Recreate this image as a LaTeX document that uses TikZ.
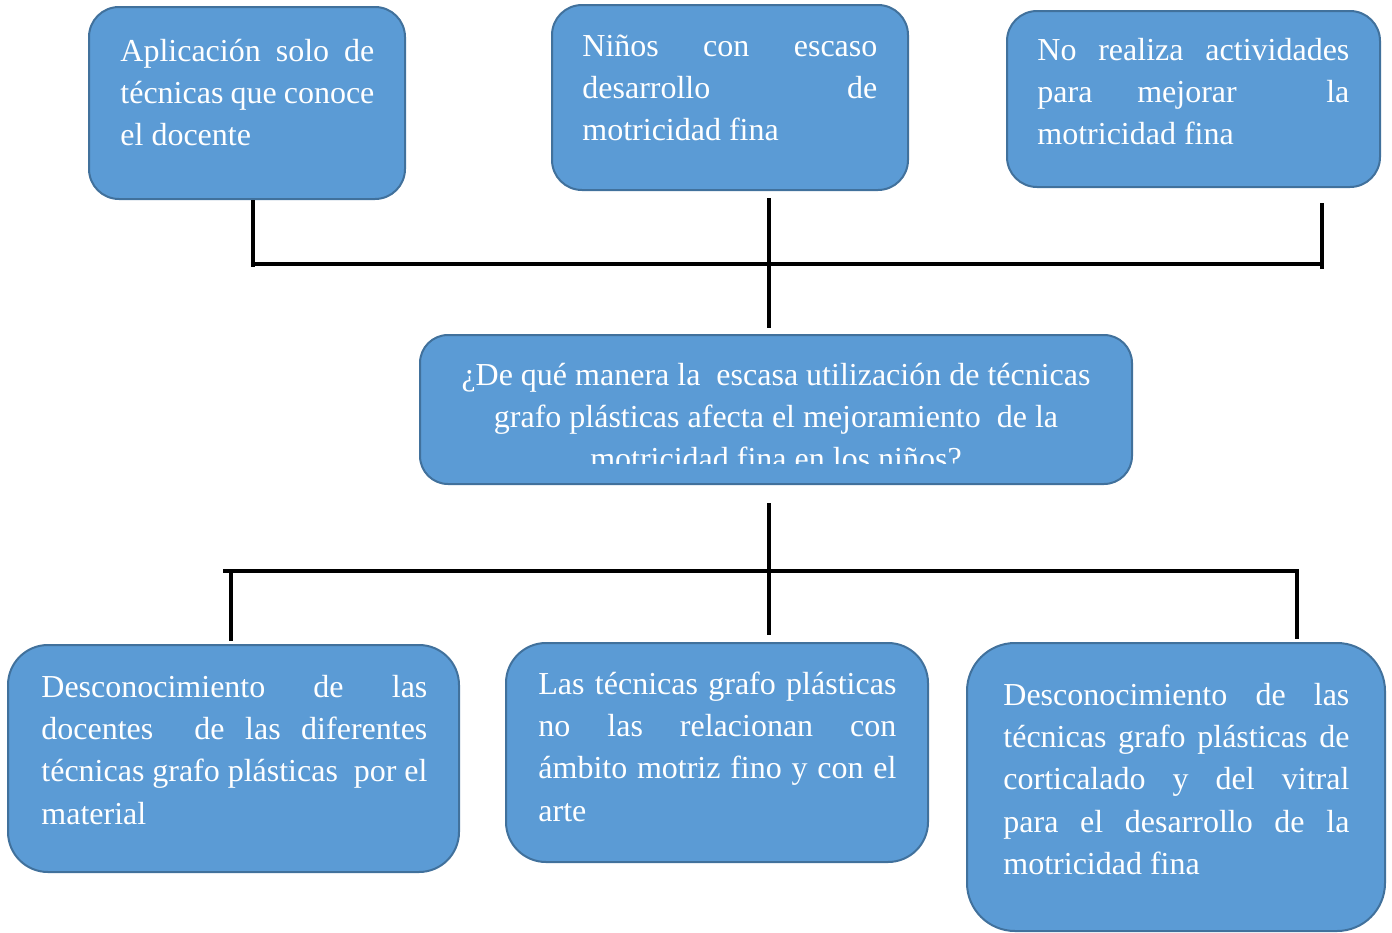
\documentclass[tikz,border=0pt]{standalone}
\usepackage{fontspec}
\setmainfont{Liberation Serif}
\definecolor{boxblue}{RGB}{91,155,213}
\definecolor{boxline}{RGB}{65,113,156}
\newcommand{\jl}[1]{\makebox[\linewidth][s]{#1}}
\tikzset{
  box/.style={draw=boxline, line width=1pt, fill=boxblue, inner sep=0pt, rounded corners=#1},
  box/.default=15pt,
  txt/.style={text=white, inner sep=0pt, font=\fontsize{16}{21.2}\selectfont},
  conn/.style={line width=2pt, black}
}
\begin{document}
\begin{tikzpicture}[x=0.5pt,y=-0.5pt]
\useasboundingbox (0,0) rectangle (1392,932);
% top boxes
\node[box, minimum width=158pt, minimum height=96pt] (A) at (247,103) {};
\node[box, minimum width=178pt, minimum height=92.5pt] (B) at (730,97.5) {};
\node[box, minimum width=186.5pt, minimum height=88pt] (C) at (1193.5,99) {};
% centre
\node[box=14pt, minimum width=356pt, minimum height=74.5pt] (Q) at (776,409.5) {};
% bottom boxes
\node[box=20pt, minimum width=225.5pt, minimum height=113.5pt] (D) at (233.5,758.5) {};
\node[box=20pt, minimum width=211pt, minimum height=109.5pt] (E) at (717,752.5) {};
\node[box=24pt, minimum width=209pt, minimum height=144pt] (F) at (1176,787) {};

% texts
\node[txt, anchor=base west] (tA) at (120,61) {\parbox[t]{127pt}{\jl{Aplicación solo de}\\\jl{técnicas que conoce}\\el docente}};
\node[txt, anchor=base west] (tB) at (582,56) {\parbox[t]{147.5pt}{\jl{Niños con escaso}\\\jl{desarrollo de}\\motricidad fina}};
\node[txt, anchor=base west] (tC) at (1037,60) {\parbox[t]{156pt}{\jl{No realiza actividades}\\\jl{para mejorar\ \ la}\\motricidad fina}};
\begin{scope}
\clip (420,335) rectangle (1132,463);
\node[txt, anchor=base] (tQ) at (776,385) {\parbox[t]{350pt}{\centering ¿De qué manera la\ \ escasa utilización de técnicas\\grafo plásticas afecta el mejoramiento\ \ de la\\motricidad fina en los niños?}};
\end{scope}
\node[txt, anchor=base west] (tD) at (41,697) {\parbox[t]{193pt}{\jl{Desconocimiento de las}\\\jl{docentes\ \ de las diferentes}\\\jl{técnicas grafo plásticas\ \ por el}\\material}};
\node[txt, anchor=base west] (tE) at (538,694) {\parbox[t]{179pt}{\jl{Las técnicas grafo plásticas}\\\jl{no las relacionan con}\\\jl{ámbito motriz fino y con el}\\arte}};
\node[txt, anchor=base west] (tF) at (1003,705) {\parbox[t]{173pt}{\jl{Desconocimiento de las}\\\jl{técnicas grafo plásticas de}\\\jl{corticalado y del vitral}\\\jl{para el desarrollo de la}\\motricidad fina}};

% connectors top
\coordinate (ja) at (253,264);
\coordinate (jb) at (769,264);
\coordinate (jc) at (1322,264);
\draw[conn] (ja |- A.south) -- ([yshift=-1.5pt]ja);
\draw[conn] ([yshift=-3.5pt]B.south -| jb) -- ([yshift=3pt]Q.north -| jb);
\draw[conn] ([yshift=-7.5pt]C.south -| jc) -- ([yshift=-2.5pt]jc);
\draw[conn] ([xshift=-1pt]ja) -- ([xshift=1pt]jc);
% connectors bottom
\coordinate (kd) at (231,571);
\coordinate (ke) at (769,571);
\coordinate (kf) at (1297,571);
\draw[conn] ([yshift=-9pt]Q.south -| ke) -- ([yshift=3.5pt]E.north -| ke);
\draw[conn] ([xshift=-4pt]kd) -- ([xshift=1pt]kf);
\draw[conn] (kd) -- ([yshift=1.5pt]D.north -| kd);
\draw[conn] (kf) -- ([yshift=1.5pt]F.north -| kf);
\end{tikzpicture}
\end{document}
